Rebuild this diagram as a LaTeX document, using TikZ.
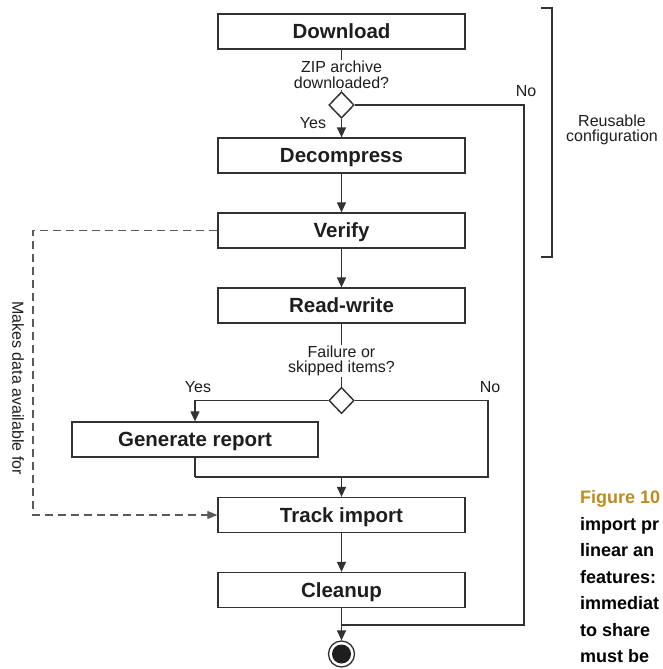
\documentclass[tikz,border=0pt]{standalone}
\usepackage{fontspec}
\setmainfont{Liberation Sans}
\usetikzlibrary{arrows.meta,shapes.geometric}
\definecolor{ln}{RGB}{50,50,50}
\definecolor{dsh}{RGB}{90,90,90}
\definecolor{txt}{RGB}{30,30,30}
\definecolor{gold}{RGB}{190,140,30}
\begin{document}
\begin{tikzpicture}[x=1pt,y=-1pt,
  stepbox/.style={draw=ln,line width=1.3pt,minimum width=247pt,minimum height=35pt,inner sep=0pt,
    text height=18pt,text depth=3.5pt,
    font=\fontsize{20.5}{24}\selectfont\bfseries,text=txt},
  dec/.style={diamond,draw=ln,line width=1.3pt,fill=white,minimum width=25pt,minimum height=26pt,inner sep=0pt},
  lbl/.style={font=\fontsize{16}{15.5}\selectfont,align=center,text=txt,inner sep=1pt},
  flow/.style={draw=ln,line width=1.3pt},
  arr/.style={flow,-{Triangle[length=10pt,width=9pt]}},
  darr/.style={draw=dsh,line width=1.1pt,dash pattern=on 8pt off 5pt,-{Triangle[length=10pt,width=8pt]}},
  captxt/.style={font=\fontsize{18}{22}\selectfont\bfseries,anchor=west,inner sep=0pt,text height=13pt,text depth=4pt}
]
\useasboundingbox (0,0) rectangle (663,669);
\fill[white] (0,0) rectangle (663,669);

% boxes
\node[stepbox] (dl) at (341.5,31.5) {Download};
\node[dec] (d1) at (341.5,105) {};
\node[stepbox] (dc) at (341.5,155.5) {Decompress};
\node[stepbox] (vf) at (341.5,230.5) {Verify};
\node[stepbox] (rw) at (341.5,305.5) {Read-write};
\node[dec] (d2) at (341.5,400.5) {};
\node[stepbox,minimum width=246pt] (gr) at (195,439.5) {Generate report};
\node[stepbox] (ti) at (341.5,515) {Track import};
\node[stepbox] (cl) at (341.5,590) {Cleanup};
\node[circle,draw=ln,line width=1.3pt,minimum size=26pt,inner sep=0pt] (end) at (341.5,654) {};
\fill[txt] (end.center) circle (9.5pt);

% coordinates
\coordinate (c1) at (524,625);
\coordinate (c2) at (488,477);
\coordinate (c3) at (195,477);
\coordinate (j) at (341.5,477);
\coordinate (dx) at (33,370);

% flows
\draw[flow] (dl.south) -- (d1.north);
\node[lbl,fill=white] (q1) at (341.5,75) {ZIP archive\\downloaded?};
\draw[arr] (d1.south) -- (dc.north);
\draw[flow] (d1.east) -| (c1) -- (cl.south |- c1);
\draw[arr] (dc.south) -- (vf.north);
\draw[arr] (vf.south) -- (rw.north);
\draw[flow] (rw.south) -- (d2.north);
\node[lbl,fill=white] (q2) at (341.5,361) {Failure or\\skipped items?};
\draw[arr] (d2.west) -| (gr.north);
\draw[flow] (d2.east) -| (c2) -- (c3);
\draw[flow] (gr.south) -- (c3);
\draw[arr] (j) -- (ti.north);
\draw[arr] (ti.south) -- (cl.north);
\draw[arr] (cl.south) -- (end.north);
\node[dec] at (d1) {};
\node[dec] at (d2) {};

% labels
\node[lbl] (y1) at (313,123) {Yes};
\node[lbl] (n1) at (526,91) {No};
\node[lbl] (y2) at (198,387) {Yes};
\node[lbl] (n2) at (490,387) {No};

% dashed data path
\draw[darr] (vf.west) -| (dx) |- (ti.west);
\node[lbl,rotate=-90] (mk) at (18,388) {Makes data available for};

% bracket
\draw[ln,line width=1.3pt] (541,8) -- (552,8) -- (552,257) -- (541,257);
\node[lbl] (ru) at (612,130) {Reusable\\configuration};

% caption, as much of it as the picture shows
\node[captxt,text=gold] (cap1) at (580,499) {Figure 10};
\node[captxt,text=black] (cap2) at (580,525.5) {import pr};
\node[captxt,text=black] (cap3) at (580,552) {linear an};
\node[captxt,text=black] (cap4) at (580,578.5) {features:};
\node[captxt,text=black] (cap5) at (580,605) {immediat};
\node[captxt,text=black] (cap6) at (580,631.5) {to share};
\node[captxt,text=black] (cap7) at (580,658) {must be};
\end{tikzpicture}
\end{document}
